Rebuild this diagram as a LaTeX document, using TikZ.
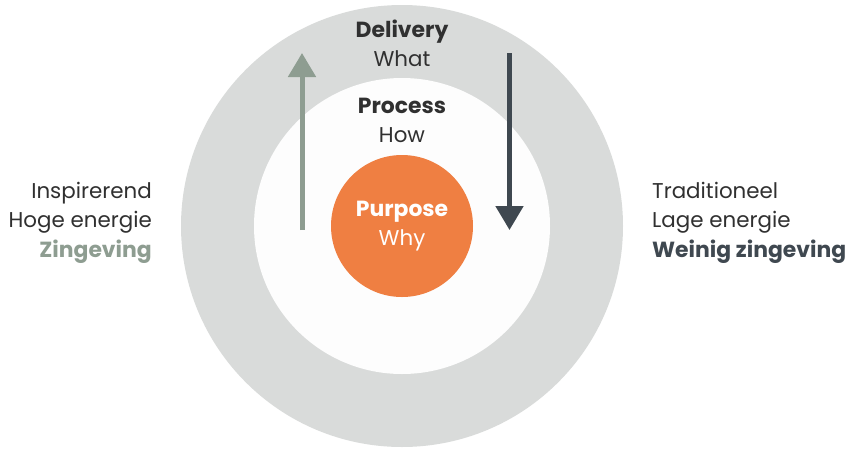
\documentclass[tikz,border=0pt]{standalone}
\usepackage{fontspec}
\setmainfont{Poppins}
\usetikzlibrary{arrows.meta}

\definecolor{ringgray}{HTML}{D9DBDA}
\definecolor{innerwhite}{HTML}{FDFDFD}
\definecolor{purposeorange}{HTML}{EF7F42}
\definecolor{sagegreen}{HTML}{8E9D91}
\definecolor{slatedark}{HTML}{3F4850}
\definecolor{textdark}{HTML}{303030}

\begin{document}
\begin{tikzpicture}[x=1pt,y=-1pt]
\tikzstyle{ring} = [circle, inner sep=0pt, draw=none]
\tikzstyle{txt} = [inner sep=0pt, text=textdark, font=\fontsize{21.4}{25}\selectfont]
\tikzstyle{head} = [txt, font=\fontsize{21.9}{25}\selectfont\bfseries]
\tikzstyle{uparrow} = [draw=sagegreen, line width=5pt, -{Triangle[width=27pt,length=24pt]}]
\tikzstyle{downarrow} = [draw=slatedark, line width=5pt, -{Triangle[width=27pt,length=24pt]}]

\useasboundingbox (0,0) rectangle (852,448);

% rings
\node [ring, fill=ringgray, minimum size=442pt] (delivery) at (402,226) {};
\node [ring, fill=innerwhite, minimum size=296pt] (process) at (402,226) {};
\node [ring, fill=purposeorange, minimum size=142pt] (purpose) at (402,226) {};

% ring titles
\node [head, anchor=base] (deliverytitle) at (402,37) {Delivery};
\node [txt, anchor=base] (what) at (402,66) {What};
\node [head, anchor=base] (processtitle) at (402,113) {Process};
\node [txt, anchor=base] (how) at (402,142) {How};
\node [head, text=white, anchor=base] (purposetitle) at (402,216) {Purpose};
\node [txt, text=white, anchor=base] (why) at (402,245) {Why};

% left side
\node [txt, anchor=base east] (inspirerend) at (152,198) {Inspirerend};
\node [txt, anchor=base east] (hoog) at (152,227) {Hoge energie};
\node [head, text=sagegreen, anchor=base east] (zingeving) at (152,257) {Zingeving};

% right side
\node [txt, anchor=base west] (traditioneel) at (652,198) {Traditioneel};
\node [txt, anchor=base west] (laag) at (652,227) {Lage energie};
\node [head, text=slatedark, anchor=base west] (weinig) at (652,257) {Weinig zingeving};

% arrows
\coordinate (upfoot) at (302,230);
\coordinate (uptip) at (302,53);
\coordinate (downfoot) at (509.5,53);
\coordinate (downtip) at (509.5,230);
\draw [uparrow] (upfoot) -- (uptip);
\draw [downarrow] (downfoot) -- (downtip);

\end{tikzpicture}
\end{document}
